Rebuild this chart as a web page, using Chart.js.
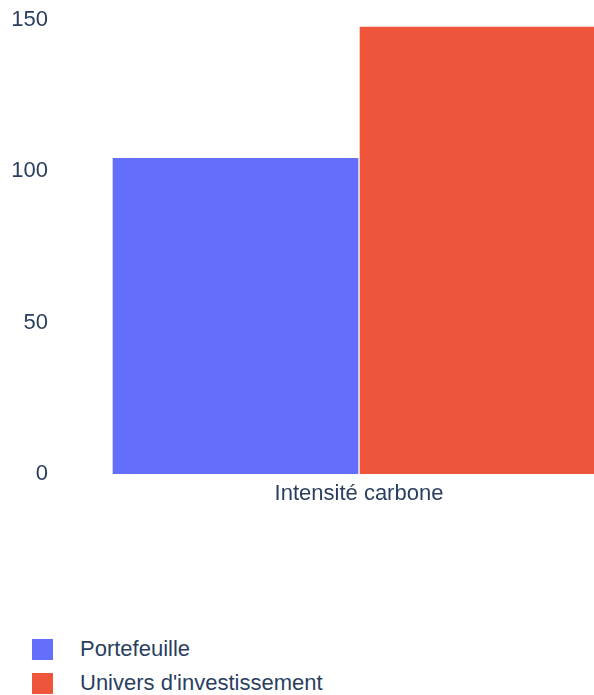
<!DOCTYPE html>
<html>
<head>
<meta charset="utf-8">
<script src="https://cdn.jsdelivr.net/npm/chart.js@4/dist/chart.umd.min.js"></script>
<style>
  html, body { margin: 0; padding: 0; background: #fff; overflow: hidden; width: 594px; height: 695px; }
  #chart { position: absolute; left: 0; top: 0; }
  #legend { position: absolute; left: 32px; top: 639px; font-family: "Liberation Sans", Arial, sans-serif; font-size: 22px; color: #2a3f5f; }
  .item { position: relative; height: 34px; }
  .box { position: absolute; left: 0; top: 0; width: 21px; height: 21px; }
  .lbl { position: absolute; left: 48px; top: -3px; white-space: nowrap; }
</style>
</head>
<body>
<canvas id="chart" width="620" height="520"></canvas>
<div id="legend"></div>
<script>
// chart data
const categories = ["Intensité carbone"];
const seriesNames = ["Portefeuille", "Univers d'investissement"];
const portefeuille = [104.6];
const univers = [148];
const seriesColors = ["#636efa", "#EF553B"];
const yTicks = [0, 50, 100, 150];

const fontFamily = '"Liberation Sans", Arial, sans-serif';
const textColor = "#2a3f5f";

const ctx = document.getElementById("chart").getContext("2d");

new Chart(ctx, {
    type: "bar",
    data: {
        labels: categories,
        datasets: [
            { label: seriesNames[0], data: portefeuille, backgroundColor: seriesColors[0], borderColor: "#ffffff", borderWidth: 1 },
            { label: seriesNames[1], data: univers, backgroundColor: seriesColors[1], borderColor: "#ffffff", borderWidth: 1 }
        ]
    },
    options: {
        responsive: false,
        animation: false,
        devicePixelRatio: 1,
        layout: { padding: { top: 0, right: 14, left: 0, bottom: 0 } },
        datasets: { bar: { categoryPercentage: 1.0, barPercentage: 1.0 } },
        plugins: {
            legend: { display: false },
            tooltip: { enabled: false }
        },
        scales: {
            x: {
                grid: { display: false, drawTicks: false },
                border: { display: false },
                ticks: { color: textColor, font: { family: fontFamily, size: 22 }, padding: 7 },
                afterFit: function(scale) { scale.height = 46; }
            },
            y: {
                min: 0,
                max: 156.6,
                grid: { display: false, drawTicks: false },
                border: { display: false },
                ticks: { color: textColor, font: { family: fontFamily, size: 22 }, padding: 64 },
                afterBuildTicks: function(scale) {
                    scale.ticks = yTicks.map(v => ({ value: v }));
                },
                afterFit: function(scale) {
                    // keep the tick padding from eating the plot height
                    scale.width = 112;
                    scale.paddingTop = 0;
                    scale.paddingBottom = 0;
                }
            }
        }
    }
});

// legend, one entry per line
const legend = document.getElementById("legend");
legend.innerHTML = seriesNames.map((name, i) => {
    return `<div class="item"><span class="box" style="background:${seriesColors[i]}"></span><span class="lbl">${name}</span></div>`;
}).join('');
</script>
</body>
</html>
